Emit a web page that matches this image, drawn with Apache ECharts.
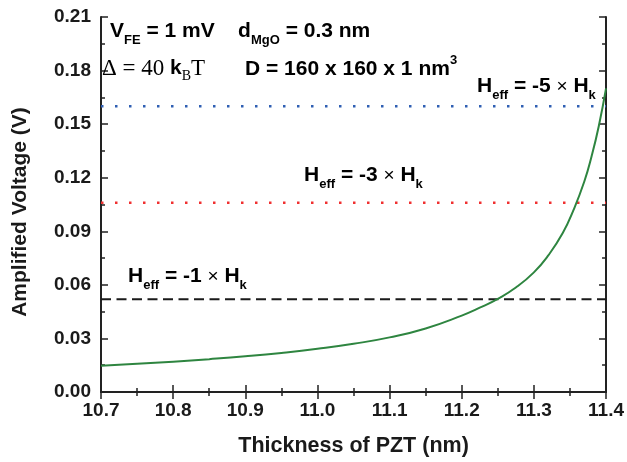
<!DOCTYPE html>
<html>
<head>
<meta charset="utf-8">
<script src="https://cdn.jsdelivr.net/npm/echarts@6/dist/echarts.min.js"></script>
<style>
  html, body { margin: 0; padding: 0; background: #fff; }
  #chart { width: 627px; height: 462px; }
</style>
</head>
<body>
<div id="chart"></div>
<script>
// thickness of PZT (nm) and amplified voltage (V)
const thickness = [10.70, 10.75, 10.80, 10.85, 10.90, 10.95, 11.00, 11.05, 11.10, 11.15,
  11.20, 11.225, 11.25, 11.275, 11.30, 11.32, 11.34, 11.355, 11.37, 11.38, 11.39, 11.40]
const voltage = [0.0147, 0.0158, 0.0170, 0.0184, 0.0200, 0.0219, 0.0242, 0.0270, 0.0306, 0.0356,
  0.0428, 0.0472, 0.0522, 0.0585, 0.0670, 0.0765, 0.0890, 0.1020, 0.1180, 0.1320, 0.1490, 0.1700]

// horizontal reference levels for Heff = -1, -3, -5 x Hk
const levelX = [10.7, 11.4]
const levelHk1 = 0.052
const levelHk3 = 0.106
const levelHk5 = 0.160

const xTicks = { min: 10.7, max: 11.4, step: 0.1 }
const yTicks = { min: 0, max: 0.21, step: 0.03 }

const chart = echarts.init(document.getElementById('chart'))

const axisColor = '#222'
const ink = '#1a1a1a'
const sans = 'Liberation Sans, Arial, sans-serif'
const serif = 'Liberation Serif, Times New Roman, serif'

function levelData (v) {
  return levelX.map(x => [x, v])
}

// rich text styles for the annotations (sub/superscripts)
const rich = {
  b: { fontFamily: sans, fontWeight: 'bold', fontSize: 21, lineHeight: 30, color: ink },
  s: { fontFamily: sans, fontWeight: 'bold', fontSize: 13, lineHeight: 6, verticalAlign: 'bottom', color: ink },
  sup: { fontFamily: sans, fontWeight: 'bold', fontSize: 13, lineHeight: 15, verticalAlign: 'top', color: ink },
  r: { fontFamily: serif, fontSize: 23, lineHeight: 30, color: ink },
  rs: { fontFamily: serif, fontSize: 14, lineHeight: 4, verticalAlign: 'bottom', color: ink },
  x: { fontFamily: sans, fontSize: 19, lineHeight: 30, color: ink }
}

function label (x, y, text) {
  return { type: 'text', left: x, top: y, z: 10, style: { text: text, rich: rich } }
}

const tickStyle = { color: axisColor, width: 1.5 }

const option = {
  animation: false,
  grid: { left: 101, right: 20, top: 17, bottom: 69 },
  xAxis: [
    {
      type: 'value',
      min: xTicks.min,
      max: xTicks.max,
      interval: xTicks.step,
      name: 'Thickness of PZT (nm)',
      nameLocation: 'middle',
      nameGap: 43,
      nameTextStyle: { fontFamily: sans, fontWeight: 'bold', fontSize: 21.5, color: ink },
      axisLine: { lineStyle: { color: axisColor, width: 2 } },
      axisTick: { inside: true, length: 7, lineStyle: tickStyle },
      minorTick: { show: true, splitNumber: 2, length: 4, lineStyle: tickStyle },
      axisLabel: {
        margin: 9,
        fontFamily: sans,
        fontWeight: 'bold',
        fontSize: 19,
        color: ink,
        formatter: v => v.toFixed(1)
      },
      splitLine: { show: false }
    },
    {
      type: 'value',
      position: 'top',
      min: xTicks.min,
      max: xTicks.max,
      interval: xTicks.step,
      axisLine: { show: true, lineStyle: { color: axisColor, width: 2 } },
      axisTick: { inside: true, length: 7, lineStyle: tickStyle },
      minorTick: { show: true, splitNumber: 2, length: 4, lineStyle: tickStyle },
      axisLabel: { show: false },
      splitLine: { show: false }
    }
  ],
  yAxis: [
    {
      type: 'value',
      min: yTicks.min,
      max: yTicks.max,
      interval: yTicks.step,
      axisLine: { show: true, lineStyle: { color: axisColor, width: 2 } },
      axisTick: { inside: true, length: 7, lineStyle: tickStyle },
      minorTick: { show: true, splitNumber: 2, length: 4, lineStyle: tickStyle },
      axisLabel: {
        margin: 10,
        fontFamily: sans,
        fontWeight: 'bold',
        fontSize: 19,
        color: ink,
        formatter: v => v.toFixed(2)
      },
      splitLine: { show: false }
    },
    {
      type: 'value',
      position: 'right',
      min: yTicks.min,
      max: yTicks.max,
      interval: yTicks.step,
      axisLine: { show: true, lineStyle: { color: axisColor, width: 2 } },
      axisTick: { inside: true, length: 7, lineStyle: tickStyle },
      minorTick: { show: true, splitNumber: 2, length: 4, lineStyle: tickStyle },
      axisLabel: { show: false },
      splitLine: { show: false }
    }
  ],
  series: [
    {
      name: 'Heff = -5 x Hk',
      type: 'line',
      data: levelData(levelHk5),
      symbol: 'none',
      lineStyle: { color: '#2f5fb3', width: 2.5, type: [2.5, 11.5], cap: 'butt' }
    },
    {
      name: 'Heff = -3 x Hk',
      type: 'line',
      data: levelData(levelHk3),
      symbol: 'none',
      lineStyle: { color: '#f03030', width: 2.5, type: [2.5, 11.5], cap: 'butt' }
    },
    {
      name: 'Heff = -1 x Hk',
      type: 'line',
      data: levelData(levelHk1),
      symbol: 'none',
      lineStyle: { color: ink, width: 2, type: [10, 5.5] }
    },
    {
      name: 'Voltage',
      type: 'line',
      data: thickness.map((t, i) => [t, voltage[i]]),
      symbol: 'none',
      smooth: 0.5,
      z: 5,
      lineStyle: { color: '#2e8540', width: 2 }
    }
  ],
  graphic: [
    {
      type: 'text',
      x: 20,
      y: 212,
      rotation: Math.PI / 2,
      style: {
        text: 'Amplified Voltage (V)',
        fontFamily: sans,
        fontWeight: 'bold',
        fontSize: 21,
        fill: ink,
        align: 'center',
        verticalAlign: 'middle'
      }
    },
    label(110, 21, '{b|V}{s|FE}{b| = 1 mV    d}{s|MgO}{b| = 0.3 nm}'),
    label(102, 57, '{r|Δ = 40 }{b|k}{rs|B}{r|T}'),
    label(245, 54, '{b|D = 160 x 160 x 1 nm}{sup|3}'),
    label(477, 76, '{b|H}{s|eff}{b| = -5 }{x|×}{b| H}{s|k}'),
    label(304, 165, '{b|H}{s|eff}{b| = -3 }{x|×}{b| H}{s|k}'),
    label(128, 266, '{b|H}{s|eff}{b| = -1 }{x|×}{b| H}{s|k}')
  ]
}

chart.setOption(option)
</script>
</body>
</html>
